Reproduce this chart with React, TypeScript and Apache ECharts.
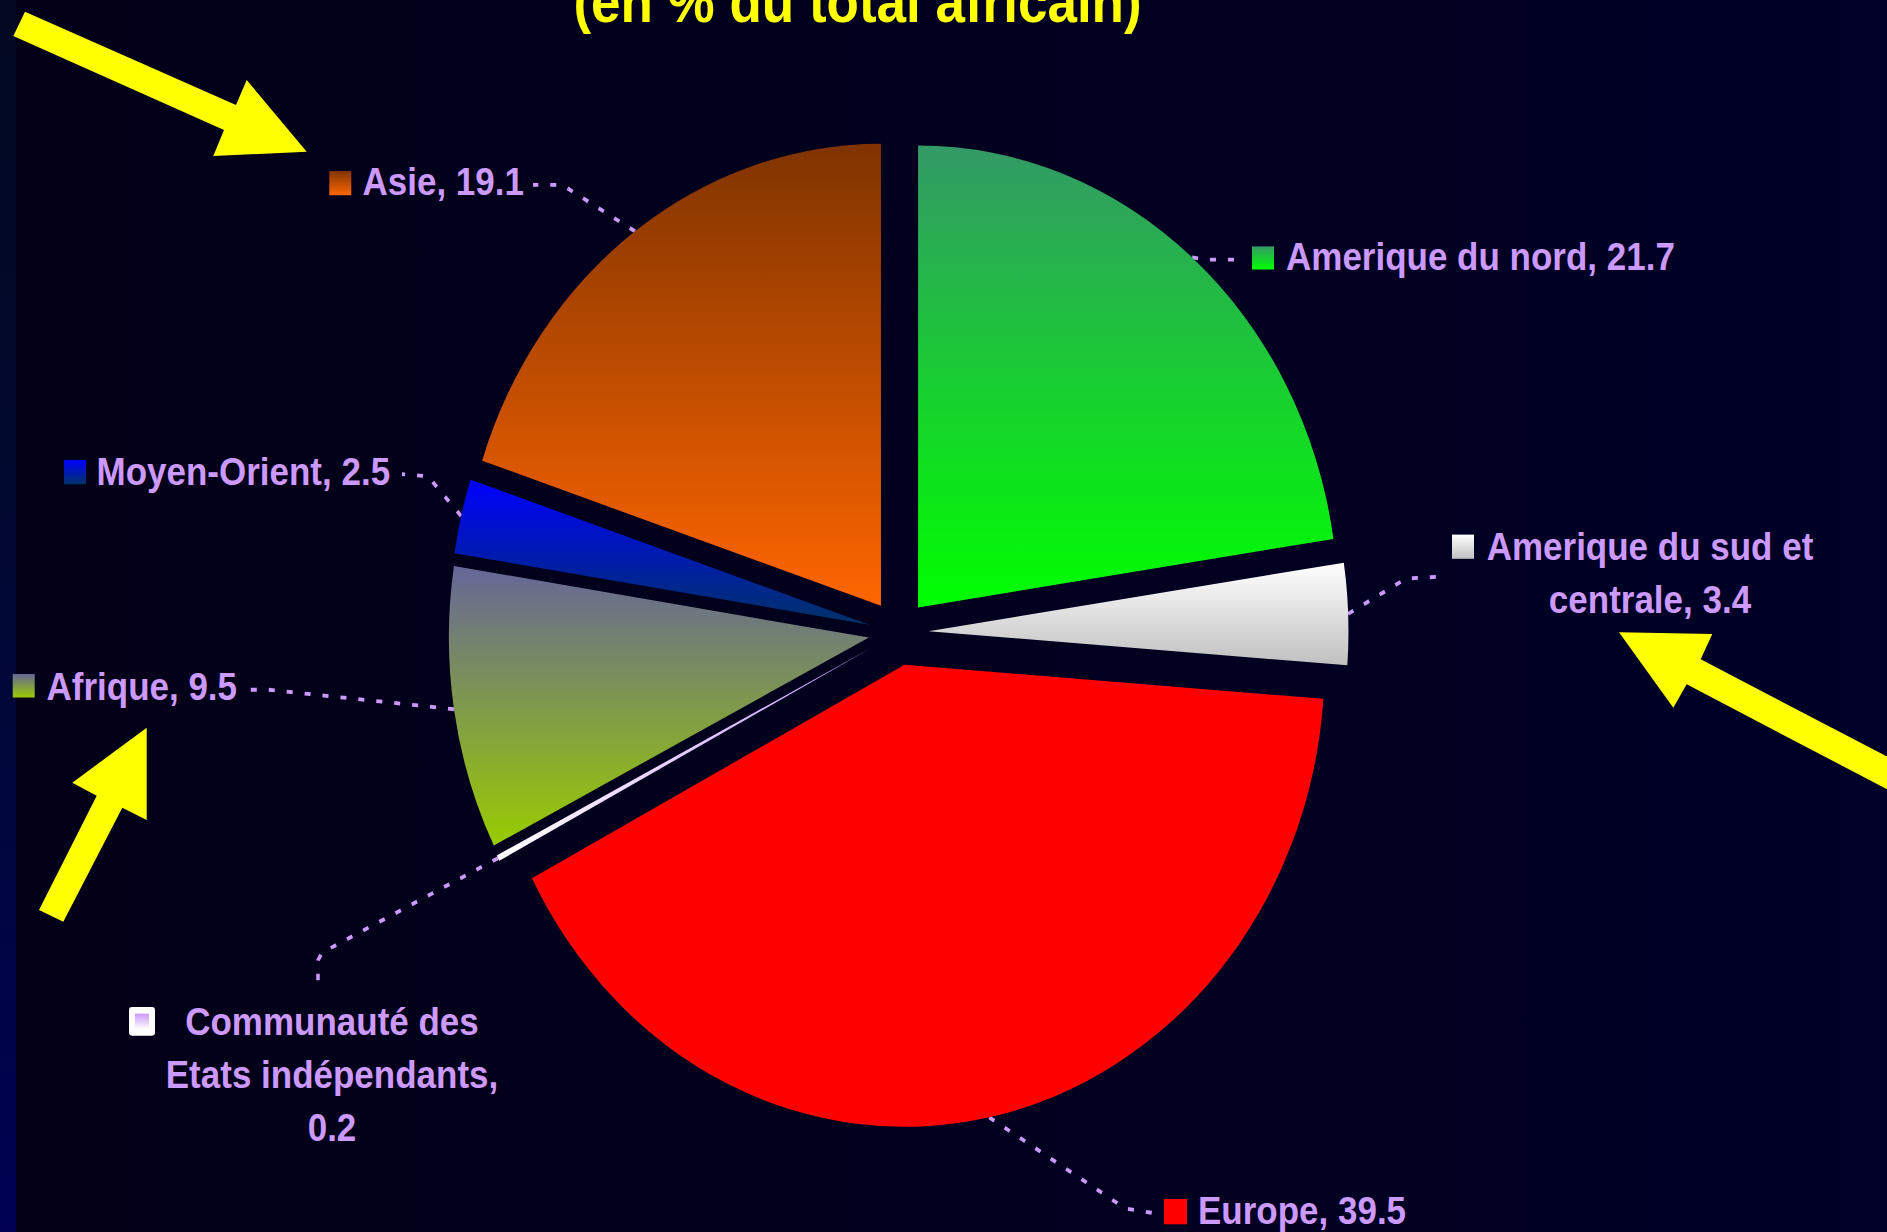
import React, { useEffect, useRef } from 'react';
import * as echarts from 'echarts';

// ---- data ----
const categories = [
  'Amerique du nord',
  'Amerique du sud et centrale',
  'Europe',
  'Communauté des Etats indépendants',
  'Afrique',
  'Moyen-Orient',
  'Asie',
];
const values = [21.7, 3.4, 39.5, 0.2, 9.5, 2.5, 19.1];
const labelLines = [
  ['Amerique du nord'],
  ['Amerique du sud et', 'centrale'],
  ['Europe'],
  ['Communauté des', 'Etats indépendants'],
  ['Afrique'],
  ['Moyen-Orient'],
  ['Asie'],
];
const colorTop = ['#339966', '#FFFFFF', '#FF0000', '#CC99FF', '#666699', '#0000FF', '#7F3300'];
const colorBottom = ['#00FF00', '#C0C0C0', '#FF0000', '#FFFFFF', '#99CC00', '#003366', '#FF6600'];
const titleText = '(en % du total africain)';

// ---- layout (unstretched coordinates; the whole chart is stretched vertically by SY) ----
const W = 1887;
const SY = 1.1;
const H = Math.round(1232 / SY);
const CX = 898.5;
const CY = 575;
const R = 420;
const OFFSET = 30;
const LABEL_COLOR = '#CC99FF';
const FONT = '"Liberation Sans", Arial, Helvetica, sans-serif';

const labelPlacement = [
  { x: 1286, y: 234, align: 'left', bends: [[1205, 236], [1246, 236]], key: [1252, 224, 22, 21] },
  { x: 1650, y: 521, align: 'center', bends: [[1406, 526], [1444, 524]], key: [1452, 486, 22, 22] },
  { x: 1198, y: 1100.5, align: 'left', bends: [[1125, 1098.5], [1155, 1103]], key: [1164, 1090, 23, 23] },
  { x: 332, y: 977, align: 'center', bends: [[322, 866], [318, 873], [318, 897]], key: [129, 915.5, 26, 26] },
  { x: 46.5, y: 624.3, align: 'left', bends: [[268, 627], [245, 627]], key: [12.7, 612.7, 22, 21.5] },
  { x: 96.5, y: 428.8, align: 'left', bends: [[428, 433], [402, 431]], key: [64, 418.2, 22, 22] },
  { x: 362.5, y: 165.2, align: 'left', bends: [[562, 168], [533, 168]], key: [329.3, 155.5, 22, 22] },
];

const arrowsFull = [
  [[25, 11.7], [236, 105], [246.7, 80], [306.7, 151.7], [213.3, 156], [224, 130], [13.3, 36]],
  [[146.7, 727.7], [146.7, 820], [122.3, 807.7], [63.3, 921.7], [39, 910], [96.7, 795.7], [72.3, 782.7]],
  [[1619, 632.3], [1712.3, 634], [1700.7, 659.3], [1930, 779], [1930, 811.8], [1686.7, 684.3], [1673.3, 707.7]],
];

const total = values.reduce((a, b) => a + b, 0);

function edgePoint(i: number): number[] {
  let before = 0;
  for (let j = 0; j < i; j++) before += values[j];
  const theta = ((before + values[i] / 2) / total) * Math.PI * 2;
  const r = R + OFFSET;
  return [CX + r * Math.sin(theta), CY - r * Math.cos(theta)];
}

function grad(i: number) {
  return new echarts.graphic.LinearGradient(0, 0, 0, 1, [
    { offset: 0, color: colorTop[i] },
    { offset: 1, color: colorBottom[i] },
  ]);
}

function labelText(i: number): string {
  const lines = labelLines[i].slice();
  const last = lines.length - 1;
  if (i === 3) {
    lines[last] = lines[last] + ',';
    lines.push(String(values[i]));
  } else {
    lines[last] = lines[last] + ', ' + values[i];
  }
  return lines.join('\n');
}

function buildOption(): any {
  const sliceData = categories.map((name, i) => ({
    name,
    value: values[i],
    selected: true,
    itemStyle: { color: grad(i) },
  }));
  const labelData = categories.map((name, i) => ({
    name,
    value: values[i],
    itemStyle: { color: 'rgba(0,0,0,0)' },
    label: { align: labelPlacement[i].align },
  }));

  const graphics: any[] = [];
  graphics.push({
    type: 'rect',
    shape: { x: 0, y: 0, width: 16, height: H },
    style: {
      fill: new echarts.graphic.LinearGradient(0, 0, 0, 1, [
        { offset: 0, color: 'rgba(0,25,50,0.35)' },
        { offset: 1, color: 'rgba(0,0,95,0.85)' },
      ]),
    },
    silent: true,
  });
  arrowsFull.forEach((pts) => {
    graphics.push({
      type: 'polygon',
      shape: { points: pts.map((p) => [p[0], p[1] / SY]) },
      style: { fill: '#FFFF00' },
      silent: true,
    });
  });
  graphics.push({
    type: 'text',
    x: 857.5,
    y: 1.5,
    style: {
      text: titleText,
      fill: '#FFFF00',
      font: `bold 53px ${FONT}`,
      textAlign: 'center',
      textVerticalAlign: 'middle',
    },
    silent: true,
  });
  labelPlacement.forEach((p, i) => {
    const [x, y, w, h] = p.key;
    if (i === 3) {
      graphics.push({
        type: 'rect',
        shape: { x, y, width: w, height: h, r: 3 },
        style: { fill: '#FFFFFF' },
        silent: true,
      });
      graphics.push({
        type: 'rect',
        shape: { x: x + 6, y: y + 6, width: w - 12, height: h - 12 },
        style: { fill: grad(i) },
        silent: true,
      });
    } else {
      graphics.push({
        type: 'rect',
        shape: { x, y, width: w, height: h },
        style: { fill: grad(i) },
        silent: true,
      });
    }
  });

  const common = {
    type: 'pie',
    center: [CX, CY],
    radius: R,
    startAngle: 90,
    clockwise: true,
    avoidLabelOverlap: false,
    silent: true,
    emphasis: { disabled: true },
  };

  return {
    animation: false,
    backgroundColor: 'transparent',
    graphic: graphics,
    series: [
      {
        ...common,
        selectedMode: 'multiple',
        selectedOffset: OFFSET,
        itemStyle: { borderWidth: 0 },
        label: { show: false },
        labelLine: { show: false },
        data: sliceData,
      },
      {
        ...common,
        selectedMode: false,
        itemStyle: { borderWidth: 0 },
        label: {
          show: true,
          position: 'outside',
          color: LABEL_COLOR,
          fontSize: 35,
          fontWeight: 'bold',
          fontFamily: FONT,
          lineHeight: 48,
          formatter: (p: any) => labelText(p.dataIndex),
        },
        labelLine: {
          show: true,
          length: 10,
          length2: 10,
          lineStyle: { color: LABEL_COLOR, width: 3.5, type: [6, 12] },
        },
        labelLayout: (params: any) => {
          const i = params.dataIndex;
          const p = labelPlacement[i];
          return {
            x: p.x,
            y: p.y,
            align: p.align,
            verticalAlign: 'middle',
            labelLinePoints: [edgePoint(i), ...p.bends],
          };
        },
        data: labelData,
      },
    ],
  };
}

export default function App() {
  const ref = useRef<HTMLDivElement>(null);
  useEffect(() => {
    document.body.style.margin = '0';
    const chart = echarts.init(ref.current as HTMLDivElement, null, { renderer: 'svg' });
    chart.setOption(buildOption());
    return () => {
      chart.dispose();
    };
  }, []);
  return (
    <div
      style={{
        position: 'fixed',
        left: 0,
        top: 0,
        width: W,
        height: 1232,
        overflow: 'hidden',
        background: 'linear-gradient(90deg, #040018 0%, #01001d 45%, #000028 100%)',
      }}
    >
      <div
        ref={ref}
        style={{
          position: 'absolute',
          left: 0,
          top: 0,
          width: W,
          height: H,
          transform: `scaleY(${SY})`,
          transformOrigin: '0 0',
        }}
      />
    </div>
  );
}
